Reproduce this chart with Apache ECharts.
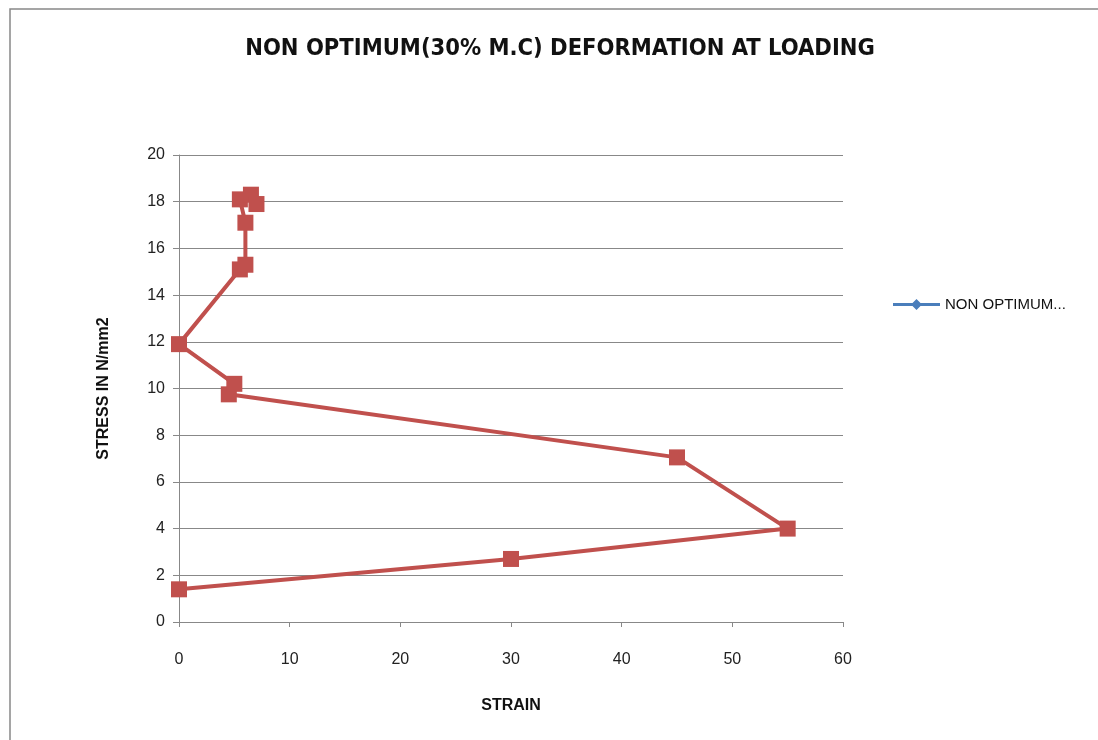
<!DOCTYPE html>
<html><head><meta charset="utf-8">
<script src="https://cdn.jsdelivr.net/npm/echarts@6/dist/echarts.min.js"></script>
<style>html,body{margin:0;padding:0;background:#fff}#c{width:1098px;height:740px}</style>
</head><body><div id="c"></div>
<script>
const strain = [0, 30, 55, 45, 4.5, 5, 0, 5.5, 6, 6, 5.5, 6.5, 7];
const stress = [1.4, 2.7, 4.0, 7.05, 9.75, 10.2, 11.9, 15.1, 15.3, 17.1, 18.1, 18.3, 17.9];
const xTicks = [0, 10, 20, 30, 40, 50, 60];
const yTicks = [0, 2, 4, 6, 8, 10, 12, 14, 16, 18, 20];
const seriesName = 'NON OPTIMUM(30% M.C) DEFORMATION AT LOADING';
const titleText = 'NON OPTIMUM(30% M.C) DEFORMATION AT LOADING';

const chart = echarts.init(document.getElementById('c'));
const axisFont = {fontFamily: 'Liberation Sans', fontSize: 16, color: '#222'};
chart.setOption({
  animation: false,
  graphic: [{type: 'rect', shape: {x: 10, y: 9, width: 1100, height: 740}, style: {fill: 'none', stroke: '#888', lineWidth: 1.5}}],
  title: {text: titleText, left: 555, top: 32, textAlign: 'center',
    textStyle: {fontFamily: 'DejaVu Sans Condensed, Liberation Sans', fontWeight: 'bold', fontSize: 23.5, color: '#111'}},
  legend: {left: 888, top: 292, itemWidth: 47, itemHeight: 14, itemGap: 5,
    formatter: () => 'NON OPTIMUM...',
    textStyle: {fontFamily: 'Liberation Sans', fontSize: 15, color: '#111'},
    data: [{name: seriesName,
      icon: 'path://M0,5.5 L47,5.5 L47,8.5 L0,8.5 Z M23.5,1.5 L29,7 L23.5,12.5 L18,7 Z',
      itemStyle: {color: '#4A7EBB'}}]},
  grid: {left: 179, right: 255, top: 155, bottom: 118},
  xAxis: {type: 'value', min: 0, max: 60, interval: 10,
    name: 'STRAIN', nameLocation: 'middle', nameGap: 76,
    nameTextStyle: {fontFamily: 'Liberation Sans', fontWeight: 'bold', fontSize: 16, color: '#111'},
    axisLine: {lineStyle: {color: '#888'}}, axisTick: {show: true, length: 5, lineStyle: {color: '#888'}},
    axisLabel: Object.assign({margin: 30, formatter: v => xTicks.includes(v) ? String(v) : ''}, axisFont),
    splitLine: {show: false}},
  yAxis: {type: 'value', min: 0, max: 20, interval: 2,
    name: 'STRESS IN N/mm2', nameLocation: 'middle', nameGap: 67, nameRotate: 90,
    nameTextStyle: {fontFamily: 'Liberation Sans', fontWeight: 'bold', fontSize: 16, color: '#111'},
    axisLine: {show: true, lineStyle: {color: '#888'}}, axisTick: {show: true, length: 6, lineStyle: {color: '#888'}},
    axisLabel: Object.assign({margin: 14, formatter: v => yTicks.includes(v) ? String(v) : ''}, axisFont),
    splitLine: {lineStyle: {color: '#888', width: 1}}},
  series: [{name: seriesName, type: 'line', data: strain.map((x, i) => [x, stress[i]]),
    symbol: 'rect', symbolSize: 16, showAllSymbol: true,
    lineStyle: {color: '#C0504D', width: 4}, itemStyle: {color: '#C0504D'}}]
});
</script></body></html>
